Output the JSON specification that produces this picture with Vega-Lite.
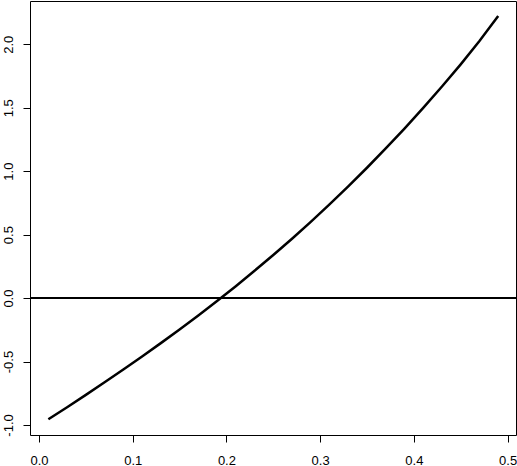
{
  "$schema": "https://vega.github.io/schema/vega-lite/v6.json",
  "width": 486,
  "height": 434,
  "autosize": {"type": "none"},
  "padding": {"left": 30, "top": 1, "right": 1, "bottom": 31},
  "background": "white",
  "config": {
    "view": {"stroke": "black", "strokeWidth": 1},
    "axis": {
      "domain": false,
      "grid": false,
      "tickColor": "black",
      "tickSize": 7,
      "tickWidth": 1,
      "labelFont": "Liberation Sans",
      "labelFontSize": 13,
      "labelColor": "black",
      "title": null
    }
  },
  "data": {
    "values": [
      {"x": 0.01, "y": -0.955},
      {"x": 0.03, "y": -0.860},
      {"x": 0.05, "y": -0.763},
      {"x": 0.07, "y": -0.664},
      {"x": 0.09, "y": -0.563},
      {"x": 0.11, "y": -0.461},
      {"x": 0.13, "y": -0.355},
      {"x": 0.15, "y": -0.248},
      {"x": 0.17, "y": -0.137},
      {"x": 0.19, "y": -0.023},
      {"x": 0.21, "y": 0.094},
      {"x": 0.23, "y": 0.215},
      {"x": 0.25, "y": 0.340},
      {"x": 0.27, "y": 0.468},
      {"x": 0.29, "y": 0.601},
      {"x": 0.31, "y": 0.738},
      {"x": 0.33, "y": 0.880},
      {"x": 0.35, "y": 1.027},
      {"x": 0.37, "y": 1.179},
      {"x": 0.39, "y": 1.336},
      {"x": 0.41, "y": 1.499},
      {"x": 0.43, "y": 1.667},
      {"x": 0.45, "y": 1.842},
      {"x": 0.47, "y": 2.025},
      {"x": 0.49, "y": 2.222}
    ]
  },
  "layer": [
    {
      "mark": {"type": "rule", "color": "black", "strokeWidth": 2},
      "encoding": {"y": {"datum": 0, "type": "quantitative"}}
    },
    {
      "mark": {"type": "line", "color": "black", "strokeWidth": 2.5},
      "encoding": {
        "x": {
          "field": "x", "type": "quantitative",
          "scale": {"domain": [-0.0096, 0.509], "nice": false, "zero": false},
          "axis": {"values": [0, 0.1, 0.2, 0.3, 0.4, 0.5], "format": ".1f", "labelPadding": 12}
        },
        "y": {
          "field": "y", "type": "quantitative",
          "scale": {"domain": [-1.079, 2.341], "nice": false, "zero": false},
          "axis": {
            "values": [-1, -0.5, 0, 0.5, 1, 1.5, 2],
            "labelExpr": "datum.value == -1 ? '-1.0' : datum.value == -0.5 ? '-0.5' : format(datum.value, '.1f')",
            "labelAngle": -90,
            "labelAlign": "center",
            "labelBaseline": "bottom",
            "labelPadding": 8
          }
        }
      }
    }
  ]
}
